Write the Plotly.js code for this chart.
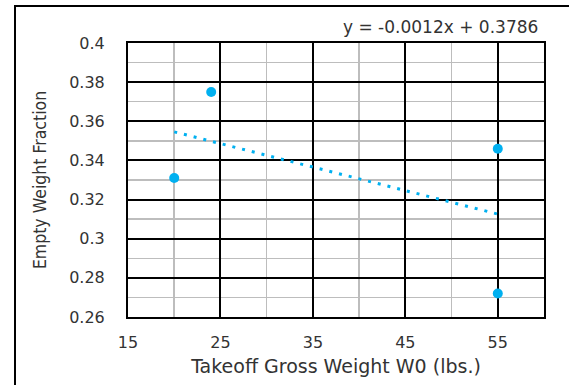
<!DOCTYPE html>
<html>
<head>
<meta charset="utf-8">
<script src="https://cdn.plot.ly/plotly-3.0.1.min.js"></script>
<style>
  html, body { margin: 0; padding: 0; background: #fff; }
  #wrap { position: relative; width: 569px; height: 385px; overflow: hidden; }
  #frame { position: absolute; left: 14px; top: 5px; width: 600px; height: 420px; border: 2px solid #000; box-sizing: border-box; pointer-events: none; z-index: 5; }
  #chart { position: absolute; left: 0; top: 0; width: 569px; height: 385px; }
</style>
</head>
<body>
<div id="wrap">
  <div id="chart"></div>
  <div id="frame"></div>
</div>
<script>
// Data points
const weightX = [20, 24, 55, 55];
const emptyFraction = [0.331, 0.375, 0.346, 0.272];

// Linear trendline endpoints (as drawn)
const trendX = [20, 55];
const trendY = [0.3546, 0.3126];
const trendLabel = 'y = -0.0012x + 0.3786';

// Tick labels
const xTickVals = [15, 25, 35, 45, 55];
const xTickText = ['15', '25', '35', '45', '55'];
const yTickVals = [0.26, 0.28, 0.30, 0.32, 0.34, 0.36, 0.38, 0.40];
const yTickText = ['0.26', '0.28', '0.3', '0.32', '0.34', '0.36', '0.38', '0.4'];

const blue = '#00B0F0';
const txt = '#333333';
const font = 'DejaVu Sans, Verdana, sans-serif';

const traces = [
  {
    x: trendX, y: trendY, type: 'scatter', mode: 'lines',
    line: { color: blue, width: 3, dash: '3px,7px' },
    hoverinfo: 'skip', showlegend: false
  },
  {
    x: weightX, y: emptyFraction, type: 'scatter', mode: 'markers',
    marker: { color: blue, size: 10 },
    showlegend: false
  }
];

const layout = {
  width: 569, height: 385,
  margin: { l: 128, r: 25, t: 43, b: 68 },
  paper_bgcolor: '#ffffff', plot_bgcolor: '#ffffff',
  font: { family: font, color: txt },
  showlegend: false,
  xaxis: {
    range: [15, 60],
    tickmode: 'array', tickvals: xTickVals, ticktext: xTickText,
    ticks: '', ticklabelstandoff: 10,
    tickfont: { family: font, size: 16, color: txt },
    showgrid: true, gridcolor: '#000000', gridwidth: 2,
    minor: { tickmode: 'linear', tick0: 15, dtick: 5, showgrid: true, gridcolor: '#bdbdbd', gridwidth: 1.5 },
    showline: true, linecolor: '#000000', linewidth: 2, mirror: true,
    zeroline: false,
    title: { text: 'Takeoff Gross Weight W0 (lbs.)', font: { family: font, size: 19, color: txt }, standoff: 8 }
  },
  yaxis: {
    range: [0.26, 0.40],
    tickmode: 'array', tickvals: yTickVals, ticktext: yTickText,
    ticks: '', ticklabelstandoff: 18,
    tickfont: { family: font, size: 16, color: txt },
    showgrid: true, gridcolor: '#000000', gridwidth: 2,
    minor: { tickmode: 'linear', tick0: 0.26, dtick: 0.01, showgrid: true, gridcolor: '#bdbdbd', gridwidth: 1.5 },
    showline: true, linecolor: '#000000', linewidth: 2, mirror: true,
    zeroline: false,
    title: { text: 'Empty Weight Fraction', font: { family: 'DejaVu Sans Condensed, Liberation Sans Narrow, Roboto, sans-serif', size: 17.5, color: txt }, standoff: 18 }
  },
  annotations: [
    {
      text: trendLabel, xref: 'paper', yref: 'paper',
      x: 1, y: 1, xanchor: 'right', yanchor: 'bottom', yshift: 4, xshift: -4,
      showarrow: false, font: { family: font, size: 17, color: txt }
    }
  ]
};

Plotly.newPlot('chart', traces, layout, { displayModeBar: false, staticPlot: true });
</script>
</body>
</html>
